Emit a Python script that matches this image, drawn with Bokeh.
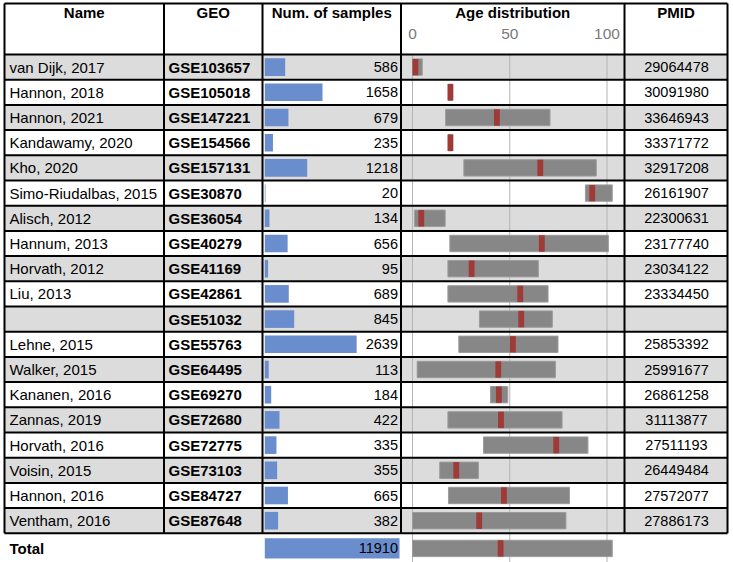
from bokeh.plotting import figure
from bokeh.models import Range1d, ColumnDataSource
from bokeh.core.properties import value
from bokeh.embed import file_html
from bokeh.resources import INLINE

# ---------------- data ----------------
names = ["van Dijk, 2017", "Hannon, 2018", "Hannon, 2021", "Kandawamy, 2020", "Kho, 2020",
         "Simo-Riudalbas, 2015", "Alisch, 2012", "Hannum, 2013", "Horvath, 2012", "Liu, 2013",
         "", "Lehne, 2015", "Walker, 2015", "Kananen, 2016", "Zannas, 2019", "Horvath, 2016",
         "Voisin, 2015", "Hannon, 2016", "Ventham, 2016"]
geo = ["GSE103657", "GSE105018", "GSE147221", "GSE154566", "GSE157131", "GSE30870", "GSE36054",
       "GSE40279", "GSE41169", "GSE42861", "GSE51032", "GSE55763", "GSE64495", "GSE69270",
       "GSE72680", "GSE72775", "GSE73103", "GSE84727", "GSE87648"]
samples = [586, 1658, 679, 235, 1218, 20, 134, 656, 95, 689, 845, 2639, 113, 184, 422, 335, 355, 665, 382]
pmid = ["29064478", "30091980", "33646943", "33371772", "32917208", "26161907", "22300631",
        "23177740", "23034122", "23334450", "", "25853392", "25991677", "26861258", "31113877",
        "27511193", "26449484", "27572077", "27886173"]
age_min = [0, 18.5, 17, 18.5, 26.4, 88.9, 1.0, 19.2, 18.2, 18.2, 34.4, 23.8, 2.4, 40.1, 18.2, 36.5, 14.0, 18.5, 0]
age_max = [5, 20.5, 70.7, 20.5, 94.5, 102.7, 16.8, 100.7, 64.7, 69.7, 71.9, 74.8, 73.5, 49.0, 76.9, 90.2, 33.9, 80.7, 78.9]
age_median = [1.5, 19.5, 43.4, 19.5, 65.7, 92.4, 4.5, 66.5, 30.4, 55.4, 55.9, 51.6, 44.1, 44.4, 45.5, 73.9, 22.5, 47.0, 34.3]
total_label = "Total"
total_samples = 11910
total_age_min, total_age_max, total_age_median = 0, 102.7, 45.3
age_ticks = [0, 50, 100]
headers = ["Name", "GEO", "Num. of samples", "Age distribution", "PMID"]

# ---------------- layout (pixel units horizontally, row units vertically) ----------------
W, H = 733, 562
X0, X1 = 0, W
ROW_PX, BODY_TOP_PX = 25.2, 54
col_edges = [4, 163.5, 262, 400.5, 624, 727]
SAMPLE_PX0, SAMPLE_PX1, SAMPLE_MAX = 264.3, 399, 3870
AGE_PX0, AGE_PX100 = 412, 606.5
n = len(names)
HEADER_TOP = (3 - BODY_TOP_PX) / ROW_PX
TOTAL_Y = n + 0.6

def ext_range(px0, px1, v0, v1):
    k = (v1 - v0) / (px1 - px0)
    return Range1d(v0 + (X0 - px0) * k, v0 + (X1 - px0) * k)

p = figure(width=W, height=H, output_backend="svg", toolbar_location=None,
           x_range=Range1d(X0, X1),
           y_range=Range1d((H - BODY_TOP_PX) / ROW_PX, -BODY_TOP_PX / ROW_PX),
           min_border=0, outline_line_color=None)
p.axis.visible = False
p.grid.visible = False
p.extra_x_ranges = {"samples": ext_range(SAMPLE_PX0, SAMPLE_PX1, 0, SAMPLE_MAX),
                    "age": ext_range(AGE_PX0, AGE_PX100, 0, 100)}

rows = list(range(n))
yc = [i + 0.5 for i in rows]

# row shading
shade = [i for i in rows if i % 2 == 0]
p.quad(left=col_edges[0], right=col_edges[-1], top=shade, bottom=[i + 1 for i in shade],
       fill_color="#dcdcdc", line_color=None)

# age grid lines
p.segment(x0=age_ticks, x1=age_ticks, y0=[0] * 3, y1=[n + 1.5] * 3, x_range_name="age",
          line_color="#b4b4b4", line_width=1)

# sample bars
p.hbar(y=yc, left=0, right=samples, height=0.7, x_range_name="samples",
       fill_color="#6a8dce", line_color=None)
p.hbar(y=[TOTAL_Y], left=0, right=[min(total_samples, SAMPLE_MAX)], height=0.8,
       x_range_name="samples", fill_color="#6a8dce", line_color=None)

# age ranges + medians
p.hbar(y=yc + [TOTAL_Y], left=age_min + [total_age_min], right=age_max + [total_age_max],
       height=0.65, x_range_name="age", fill_color="#878787", line_color="#9c9c9c", line_width=1)
p.rect(x=age_median + [total_age_median], y=yc + [TOTAL_Y], width=3, height=0.65,
       x_range_name="age", fill_color="#a03a37", line_color=None)

# borders
hy = [HEADER_TOP] + list(range(n + 1))
p.segment(x0=[col_edges[0]] * len(hy), x1=[col_edges[-1]] * len(hy), y0=hy, y1=hy,
          line_color="black", line_width=2)
p.segment(x0=col_edges, x1=col_edges, y0=[HEADER_TOP] * 6, y1=[n] * 6,
          line_color="black", line_width=2)

FONT = value("Liberation Sans")
FS = "15px"
FSN = "14.5px"

def txt(x, y, t, align="left", bold=False, color="black", rng="default", size=FS):
    src = ColumnDataSource(dict(x=x, y=y, t=t))
    p.text(x="x", y="y", text="t", source=src, text_font=FONT, text_font_size=size,
           text_align=align, text_baseline="middle", text_color=color,
           text_font_style="bold" if bold else "normal", x_range_name=rng)

# header
hx = [(col_edges[i] + col_edges[i + 1]) / 2 for i in range(5)]
txt(hx, [-1.68] * 5, headers, align="center", bold=True)
txt(age_ticks, [-0.83] * 3, [str(t) for t in age_ticks], align="center", color="#7a7a7a",
    rng="age", size="15.5px")

# body
txt([9] * n, yc, names)
txt([168] * n, yc, geo, bold=True)
txt([397.5] * n, yc, [str(s) for s in samples], align="right", size=FSN)
txt([676] * n, yc, pmid, align="center", size=FSN)

# total
txt([9], [TOTAL_Y], [total_label], bold=True)
txt([397.5], [TOTAL_Y], [str(total_samples)], align="right", size=FSN)

open("out.html", "w").write(file_html(p, INLINE))
